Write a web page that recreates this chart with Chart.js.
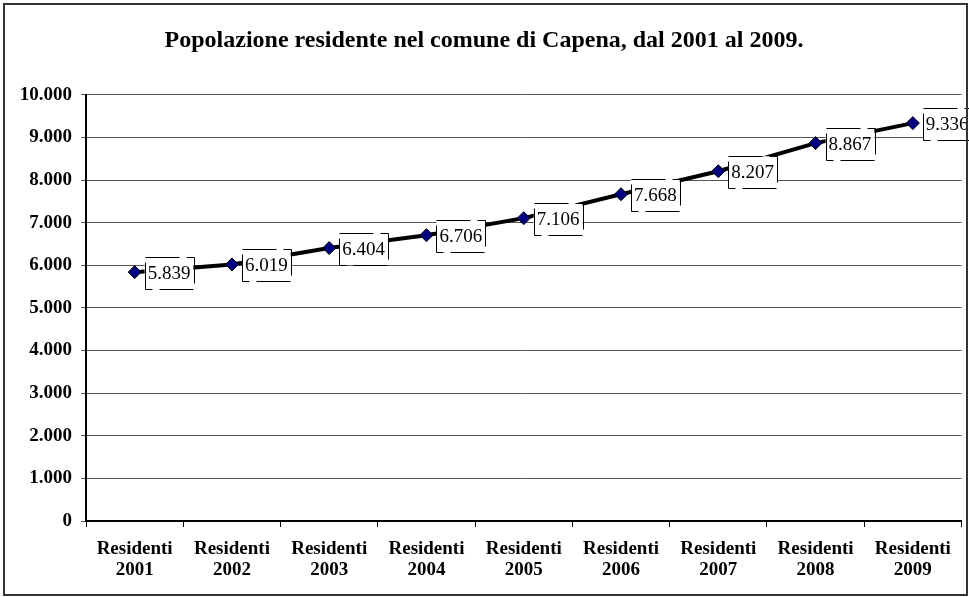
<!DOCTYPE html>
<html>
<head>
<meta charset="utf-8">
<script src="https://cdn.jsdelivr.net/npm/chart.js@4/dist/chart.umd.min.js"></script>
<style>
    html, body { margin: 0; padding: 0; background: #fff; }
    #wrap { width: 969px; height: 597px; position: relative; }
</style>
</head>
<body>
<div id="wrap"><canvas id="chart" width="969" height="597"></canvas></div>
<script>
const years = ['2001', '2002', '2003', '2004', '2005', '2006', '2007', '2008', '2009'];
const residents = [5839, 6019, 6404, 6706, 7106, 7668, 8207, 8867, 9336];
const yTicks = [0, 1000, 2000, 3000, 4000, 5000, 6000, 7000, 8000, 9000, 10000];

const serif = '"Liberation Serif", "Times New Roman", serif';

function formatIt(n) {
    return String(n).replace(/\B(?=(\d{3})+(?!\d))/g, '.');
}

// outer frame of the picture
const framePlugin = {
    id: 'frame',
    afterDraw(chart) {
        const ctx = chart.ctx;
        ctx.save();
        ctx.strokeStyle = '#333';
        ctx.lineWidth = 2;
        ctx.strokeRect(4, 4, chart.width - 6, chart.height - 6);
        ctx.restore();
    }
};

// boxed value labels to the right of each point
const boxLabels = {
    id: 'boxLabels',
    afterDatasetsDraw(chart) {
        const ctx = chart.ctx;
        const meta = chart.getDatasetMeta(0);
        ctx.save();
        ctx.font = '19px ' + serif;
        ctx.textBaseline = 'middle';
        meta.data.forEach((pt, i) => {
            const text = formatIt(residents[i]);
            const w = ctx.measureText(text).width + 6;
            const h = 32;
            const x = pt.x + 10;
            const y = pt.y - h / 2 + 1;
            ctx.fillStyle = '#fff';
            ctx.fillRect(x, y, w, h);
            ctx.strokeStyle = '#000';
            ctx.lineWidth = 1;
            ctx.setLineDash([34, 7]);
            ctx.strokeRect(Math.round(x) + 0.5, Math.round(y) + 0.5, Math.round(w), h);
            ctx.setLineDash([]);
            ctx.fillStyle = '#000';
            ctx.fillText(text, x + 3, pt.y + 2);
        });
        ctx.restore();
    }
};

new Chart(document.getElementById('chart'), {
    type: 'line',
    data: {
        labels: years.map(y => ['Residenti', y]),
        datasets: [{
            data: residents,
            borderColor: '#000',
            borderWidth: 4,
            tension: 0,
            pointStyle: 'rectRot',
            pointRadius: 6.5,
            pointBackgroundColor: '#000080',
            pointBorderColor: '#000',
            pointBorderWidth: 1,
            clip: false
        }]
    },
    options: {
        responsive: false,
        animation: false,
        layout: { padding: { left: 6, right: 7, top: 0, bottom: 0 } },
        plugins: {
            legend: { display: false },
            tooltip: { enabled: false },
            title: {
                display: true,
                text: 'Popolazione residente nel comune di Capena, dal 2001 al 2009.',
                color: '#000',
                font: { family: serif, size: 24, weight: 'bold' },
                padding: { top: 26, bottom: 40 }
            }
        },
        scales: {
            x: {
                offset: true,
                grid: {
                    offset: true,
                    drawOnChartArea: false,
                    drawTicks: true,
                    tickLength: 6,
                    color: '#000'
                },
                border: { color: '#000', width: 2 },
                ticks: {
                    color: '#000',
                    font: { family: serif, size: 19, weight: 'bold', lineHeight: 1.1 },
                    padding: 12,
                    maxRotation: 0,
                    autoSkip: false
                },
                afterFit(scale) { scale.height = 76; }
            },
            y: {
                min: 0,
                max: 10000,
                afterBuildTicks(scale) { scale.ticks = yTicks.map(v => ({ value: v })); },
                grid: {
                    color: '#555',
                    lineWidth: 1,
                    tickLength: 5
                },
                border: { color: '#000', width: 2 },
                ticks: {
                    color: '#000',
                    font: { family: serif, size: 19, weight: 'bold' },
                    padding: 9,
                    callback: v => formatIt(v)
                },
                afterFit(scale) { scale.width = 80; }
            }
        }
    },
    plugins: [framePlugin, boxLabels]
});
</script>
</body>
</html>
